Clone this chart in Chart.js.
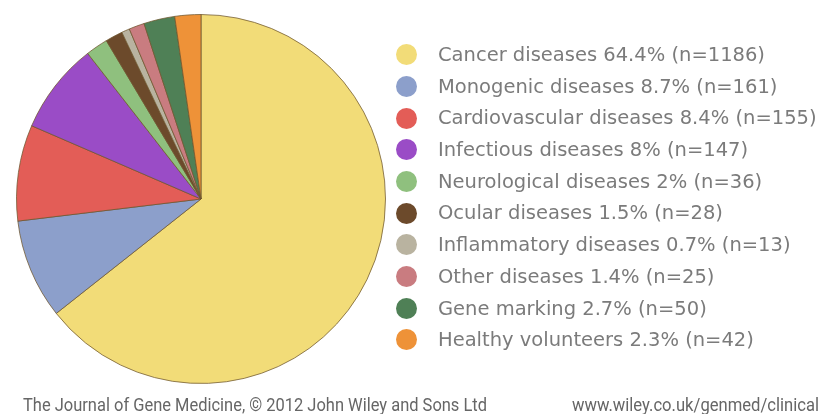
<!DOCTYPE html>
<html>
<head>
<meta charset="utf-8">
<script src="https://cdn.jsdelivr.net/npm/chart.js@4"></script>
<style>
  html,body{margin:0;padding:0;background:#fff;width:835px;height:414px;overflow:hidden;}
  #wrap{position:absolute;left:0;top:0;width:402px;height:398px;}
  #legend{position:absolute;left:396px;top:39px;font-family:"DejaVu Sans",sans-serif;color:#7b7b7b;font-size:19.5px;}
  .row{height:31.7px;line-height:31.7px;white-space:nowrap;position:relative;}
  .dot{position:absolute;left:0;top:5.3px;width:21px;height:21px;border-radius:50%;}
  .txt{position:absolute;left:42px;top:0;}
  .foot{position:absolute;top:395px;font-family:"Liberation Sans Narrow","Roboto",sans-serif;font-size:18px;line-height:20px;color:#666;white-space:nowrap;transform-origin:0 0;}
</style>
</head>
<body>
<div id="wrap"><canvas id="c"></canvas></div>
<div id="legend"></div>
<div class="foot" id="f1" style="left:23px;"></div>
<div class="foot" id="f2" style="left:572px;"></div>
<script>
const categories = ["Cancer diseases","Monogenic diseases","Cardiovascular diseases","Infectious diseases","Neurological diseases","Ocular diseases","Inflammatory diseases","Other diseases","Gene marking","Healthy volunteers"];
const percents = ["64.4","8.7","8.4","8","2","1.5","0.7","1.4","2.7","2.3"];
const counts = [1186,161,155,147,36,28,13,25,50,42];
const colors = ["#F2DC78","#8C9FCB","#E35D57","#9A4CC6","#8FC07E","#6C4A2B","#B9B3A0","#C97C80","#4F8056","#EE9238"];
const footerLeft = "The Journal of Gene Medicine, \u00A9 2012 John Wiley and Sons Ltd";
const footerRight = "www.wiley.co.uk/genmed/clinical";

const labels = categories.map((c,i)=>`${c} ${percents[i]}% (n=${counts[i]})`);

const lg = document.getElementById('legend');
labels.forEach((t,i)=>{
  const r = document.createElement('div'); r.className='row';
  r.innerHTML = `<span class="dot" style="background:${colors[i]}"></span><span class="txt"></span>`;
  r.querySelector('.txt').textContent = t;
  lg.appendChild(r);
});
function fit(id, text, w){
  const el = document.getElementById(id);
  el.textContent = text;
  const cur = el.getBoundingClientRect().width;
  if (cur > 0) el.style.transform = `scaleX(${w/cur})`;
}
fit('f1', footerLeft, 464);
fit('f2', footerRight, 247);

new Chart(document.getElementById('c'), {
  type: 'pie',
  data: {
    labels: labels,
    datasets: [{
      data: counts,
      backgroundColor: colors,
      borderColor: 'rgba(110,85,45,0.75)',
      borderWidth: 1
    }]
  },
  options: {
    responsive: true,
    maintainAspectRatio: false,
    animation: false,
    layout: { padding: { left: 16, right: 16, top: 14, bottom: 14 } },
    plugins: { legend: { display: false }, tooltip: { enabled: false } }
  }
});
</script>
</body>
</html>
